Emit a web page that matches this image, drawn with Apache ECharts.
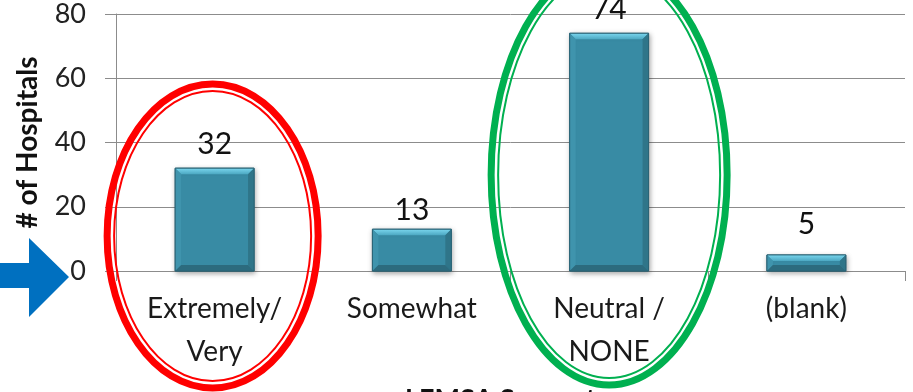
<!DOCTYPE html>
<html>
<head>
<meta charset="utf-8">
<script src="https://cdn.jsdelivr.net/npm/echarts@6/dist/echarts.min.js"></script>
<style>
  html, body { margin: 0; padding: 0; background: #ffffff; }
  #chart { width: 913px; height: 392px; }
</style>
</head>
<body>
<div id="chart"></div>
<script>
// Survey answers and hospital counts
const categories = ['Extremely/\nVery', 'Somewhat', 'Neutral /\nNONE', '(blank)'];
const hospitals = [32, 13, 74, 5];
const yTicks = [0, 20, 40, 60, 80];

const FONT = 'Lato, "Liberation Sans", sans-serif';
const AXIS_GREY = '#8c8c8c';
// gap between each column top and its value label
const labelGaps = [9, 4, 9, 16];

const chart = echarts.init(document.getElementById('chart'), null, { renderer: 'canvas' });

// Beveled column: flat body with light top edge, shaded sides and dark bottom edge
function renderBevelBar(params, api) {
  const idx = api.value(0);
  const top = api.coord([idx, api.value(1)]);
  const base = api.coord([idx, 0]);
  const w = api.size([1, 0])[0] * 0.4;
  const x0 = top[0] - w / 2, x1 = top[0] + w / 2;
  const y0 = top[1], y1 = base[1];
  const h = y1 - y0;
  const b = Math.min(6, h / 2.5);
  return {
    type: 'group',
    children: [
      {
        type: 'rect',
        shape: { x: x0, y: y0, width: w, height: h },
        style: {
          fill: '#388ba4',
          stroke: '#2b6476', lineWidth: 1,
          shadowBlur: 5, shadowColor: 'rgba(0,0,0,0.35)', shadowOffsetX: 1, shadowOffsetY: 2
        }
      },
      { // top bevel
        type: 'polygon',
        shape: { points: [[x0, y0], [x1, y0], [x1 - b, y0 + b], [x0 + b, y0 + b]] },
        style: {
          fill: new echarts.graphic.LinearGradient(0, 0, 0, 1, [
            { offset: 0, color: '#7ad6ee' },
            { offset: 1, color: '#4ca8c2' }
          ])
        }
      },
      { // left bevel
        type: 'polygon',
        shape: { points: [[x0, y0], [x0 + b, y0 + b], [x0 + b, y1 - b], [x0, y1]] },
        style: { fill: '#3f94ad' }
      },
      { // right bevel
        type: 'polygon',
        shape: { points: [[x1, y0], [x1 - b, y0 + b], [x1 - b, y1 - b], [x1, y1]] },
        style: { fill: '#2f7589' }
      },
      { // bottom bevel
        type: 'polygon',
        shape: { points: [[x0, y1], [x0 + b, y1 - b], [x1 - b, y1 - b], [x1, y1]] },
        style: { fill: '#2c6b7e' }
      },
      {
        type: 'rect',
        shape: { x: x0, y: y0, width: w, height: h },
        style: { fill: 'none', stroke: '#2b6476', lineWidth: 1 }
      }
    ]
  };
}

chart.setOption({
  animation: false,
  backgroundColor: '#ffffff',
  grid: { left: 116, right: 8, top: 14, bottom: 121, containLabel: false },
  xAxis: {
    type: 'category',
    data: categories,
    boundaryGap: true,
    axisLine: { show: true, lineStyle: { color: AXIS_GREY, width: 1 } },
    axisTick: { show: true, length: 10, lineStyle: { color: AXIS_GREY } },
    axisLabel: {
      color: '#1a1a1a', fontFamily: FONT, fontSize: 28,
      lineHeight: 43, margin: 16, interval: 0
    },
    splitLine: { show: false }
  },
  yAxis: {
    type: 'value',
    min: yTicks[0],
    max: yTicks[yTicks.length - 1],
    interval: yTicks[1] - yTicks[0],
    name: '# of Hospitals',
    nameLocation: 'middle',
    nameGap: 74,
    nameRotate: 90,
    nameTextStyle: { color: '#111111', fontFamily: FONT, fontSize: 28, fontWeight: 'bold' },
    axisLine: { show: true, lineStyle: { color: AXIS_GREY, width: 1 } },
    axisTick: { show: true, length: 11, lineStyle: { color: AXIS_GREY } },
    axisLabel: { color: '#222222', fontFamily: FONT, fontSize: 27, margin: 30 },
    splitLine: { show: true, lineStyle: { color: AXIS_GREY, width: 1 } }
  },
  series: [
    {
      type: 'custom',
      renderItem: renderBevelBar,
      data: hospitals.map((v, i) => [i, v]),
      encode: { x: 0, y: 1 },
      z: 3
    },
    {
      // value labels above each column
      type: 'bar',
      data: hospitals.map((v, i) => ({ value: v, label: { distance: labelGaps[i] } })),
      barWidth: '40%',
      itemStyle: { color: 'rgba(0,0,0,0)' },
      label: {
        show: true, position: 'top',
        color: '#111111', fontFamily: FONT, fontSize: 30
      },
      z: 4
    }
  ]
});

// Highlight rings and pointer drawn around the plotted categories
function drawAnnotations() {
  const c0 = chart.convertToPixel({ xAxisIndex: 0 }, 0);
  const c2 = chart.convertToPixel({ xAxisIndex: 0 }, 2);
  const ring = (cx, cy, rx, ry, color) => [
    { type: 'ellipse', shape: { cx, cy, rx, ry }, style: { fill: 'none', stroke: color, lineWidth: 7 }, z: 10 },
    { type: 'ellipse', shape: { cx, cy, rx: rx - 7, ry: ry - 7 }, style: { fill: 'none', stroke: color, lineWidth: 2 }, z: 10 }
  ];
  chart.setOption({
    graphic: [
      ...ring(c0 - 2, 236, 105.5, 152, '#ff0000'),
      ...ring(c2, 175, 118, 210, '#00b050'),
      {
        type: 'polygon',
        shape: { points: [[0, 263], [29, 263], [29, 238], [69, 277], [29, 317], [29, 288], [0, 288]] },
        style: { fill: '#0070c0' },
        z: 10
      },
      {
        type: 'text',
        left: 405, top: 386,
        style: { text: 'LEMSA Support', fill: '#111111', font: 'bold 27px ' + FONT },
        z: 10
      }
    ]
  });
}
drawAnnotations();
</script>
</body>
</html>
